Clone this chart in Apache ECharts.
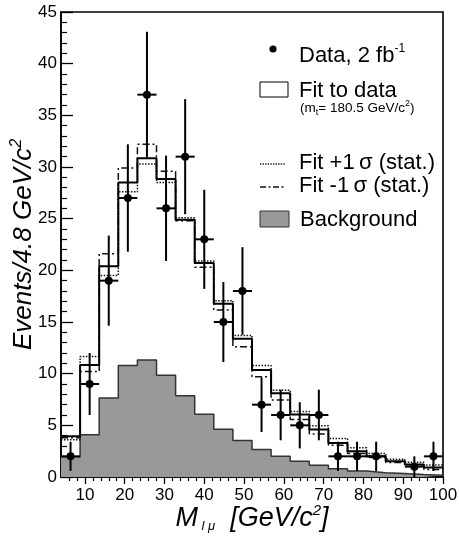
<!DOCTYPE html>
<html><head><meta charset="utf-8">
<script src="https://cdn.jsdelivr.net/npm/echarts@6/dist/echarts.min.js"></script>
<style>html,body{margin:0;padding:0;background:#fff}#c{width:459px;height:536px}</style>
</head><body><div id="c"></div>
<script>
// ---- data ----
const binEdges = [4, 8.8, 13.6, 18.4, 23.2, 28, 32.8, 37.6, 42.4, 47.2, 52, 56.8, 61.6, 66.4, 71.2, 76, 80.8, 85.6, 90.4, 95.2, 100];
const dataCounts = [2, 9, 19, 27, 37, 26, 31, 23, 15, 18, 7, 6, 5, 6, 2, 2, 2, null, 1, 2];
const fitNominal = [3.95, 10.85, 20.4, 28.5, 30.85, 28.85, 24.9, 20.7, 16.77, 13.37, 10.36, 8.1, 6.06, 4.6, 3.3, 2.5, 2.0, 1.52, 1.2, 0.91];
const fitPlus1Sigma = [3.6, 11.65, 19.5, 27.6, 30.3, 28.5, 25.1, 20.9, 17.06, 13.7, 10.8, 8.4, 6.35, 4.95, 3.73, 2.82, 2.27, 1.72, 1.43, 1.17];
const fitMinus1Sigma = [3.8, 10.2, 21.6, 29.9, 32.2, 29.6, 24.8, 20.3, 16.15, 12.6, 9.7, 7.45, 5.57, 4.15, 3.08, 2.27, 1.88, 1.4, 1.04, 0.72];
const background = [1.95, 4.08, 7.64, 10.8, 11.33, 9.84, 7.86, 6.07, 4.63, 3.53, 2.66, 2.0, 1.52, 1.14, 0.81, 0.58, 0.42, 0.33, 0.23, 0.16];
const xMajorTicks = [10, 20, 30, 40, 50, 60, 70, 80, 90, 100];
const xMinorTicks = [6, 8, 12, 14, 16, 18, 22, 24, 26, 28, 32, 34, 36, 38, 42, 44, 46, 48, 52, 54, 56, 58, 62, 64, 66, 68, 72, 74, 76, 78, 82, 84, 86, 88, 92, 94, 96, 98];
const yMinorTicks = [1, 2, 3, 4, 6, 7, 8, 9, 11, 12, 13, 14, 16, 17, 18, 19, 21, 22, 23, 24, 26, 27, 28, 29, 31, 32, 33, 34, 36, 37, 38, 39, 41, 42, 43, 44];
const xRange = [4, 100];
const yRange = [0, 45];
const yStep = 5;

const FONT = '"Liberation Sans", Arial, Helvetica, sans-serif';

function stepPoints(vals) {
  const pts = [];
  vals.forEach((v, i) => { pts.push([binEdges[i], v]); pts.push([binEdges[i + 1], v]); });
  return pts;
}
const pointData = [];
dataCounts.forEach((n, i) => {
  if (n == null) return;
  pointData.push([(binEdges[i] + binEdges[i + 1]) / 2, n, Math.sqrt(n), binEdges[i], binEdges[i + 1]]);
});

const chart = echarts.init(document.getElementById('c'), null, { renderer: 'canvas' });
const option = {
  animation: false,
  backgroundColor: '#fff',
  grid: { left: 61, right: 16, top: 12, bottom: 59, containLabel: false, outerBoundsMode: 'none',
          show: true, borderColor: '#000', borderWidth: 1.6, backgroundColor: 'transparent' },
  xAxis: [{
    type: 'value', min: xRange[0], max: xRange[1],
    axisLine: { show: true, lineStyle: { color: '#000', width: 1.6 } },
    axisTick: { show: true, inside: false, length: 7, lineStyle: { color: '#000', width: 1.3 }, customValues: xMajorTicks },
    axisLabel: { show: true, customValues: xMajorTicks, margin: 10, color: '#000', fontSize: 17, fontFamily: FONT },
    splitLine: { show: false },
    name: '{i|M}{sub| l μ}{i|  [GeV/c}{sup|2}{i|]}',
    nameLocation: 'middle', nameGap: 26, nameMoveOverlap: false,
    nameTextStyle: {
      rich: {
        i: { fontSize: 27, fontStyle: 'italic', fontFamily: FONT, color: '#000', lineHeight: 30 },
        sub: { fontSize: 13, fontStyle: 'italic', fontFamily: FONT, color: '#000', verticalAlign: 'bottom', lineHeight: 30, padding: [14, 0, 0, 0] },
        sup: { fontSize: 15, fontStyle: 'italic', fontFamily: FONT, color: '#000', verticalAlign: 'top', lineHeight: 30 }
      }
    }
  }, {
    type: 'value', min: xRange[0], max: xRange[1], position: 'bottom',
    axisLine: { show: false },
    axisTick: { show: true, inside: false, length: 4, lineStyle: { color: '#000', width: 1.2 }, customValues: xMinorTicks },
    axisLabel: { show: false }, splitLine: { show: false }
  }],
  yAxis: [{
    type: 'value', min: yRange[0], max: yRange[1], interval: yStep,
    axisLine: { show: true, lineStyle: { color: '#000', width: 1.6 } },
    axisTick: { show: true, inside: true, length: 12, lineStyle: { color: '#000', width: 1.3 } },
    axisLabel: { margin: 4, color: '#000', fontSize: 17, fontFamily: FONT },
    splitLine: { show: false },
    name: '{i|Events/4.8 GeV/c}{sup|2}',
    nameLocation: 'middle', nameRotate: 90, nameGap: 22, nameMoveOverlap: false,
    nameTextStyle: {
      rich: {
        i: { fontSize: 26, fontStyle: 'italic', fontFamily: FONT, color: '#000', lineHeight: 30 },
        sup: { fontSize: 16, fontStyle: 'italic', fontFamily: FONT, color: '#000', verticalAlign: 'top', lineHeight: 30 }
      }
    }
  }, {
    type: 'value', min: yRange[0], max: yRange[1], position: 'left',
    axisLine: { show: false },
    axisTick: { show: true, inside: true, length: 6, lineStyle: { color: '#000', width: 1.2 }, customValues: yMinorTicks },
    axisLabel: { show: false }, splitLine: { show: false }
  }],
  series: [
    {
      name: 'Background', type: 'line', data: stepPoints(background), symbol: 'none',
      lineStyle: { color: '#333', width: 1.5 },
      areaStyle: { color: '#999999', opacity: 1 }, z: 1
    },
    {
      name: 'Fit +1 sigma', type: 'line', data: stepPoints(fitPlus1Sigma), symbol: 'none',
      lineStyle: { color: '#111', width: 1.5, type: [1.5, 1.5] }, z: 2
    },
    {
      name: 'Fit -1 sigma', type: 'line', data: stepPoints(fitMinus1Sigma), symbol: 'none',
      lineStyle: { color: '#111', width: 1.5, type: [7, 3, 2, 3] }, z: 3
    },
    {
      name: 'Fit to data', type: 'line', data: stepPoints(fitNominal), symbol: 'none',
      lineStyle: { color: '#000', width: 2 }, z: 4
    },
    {
      name: 'Data', type: 'custom', data: pointData, encode: { x: 0, y: 1 }, z: 5,
      renderItem: function (params, api) {
        const x = api.value(0), y = api.value(1), e = api.value(2), lo = api.value(3), hi = api.value(4);
        const c = api.coord([x, y]);
        const top = api.coord([x, y + e]);
        const bot = api.coord([x, Math.max(y - e, 0)]);
        const l = api.coord([lo, y]);
        const r = api.coord([hi, y]);
        return {
          type: 'group', children: [
            { type: 'line', shape: { x1: c[0], y1: top[1], x2: c[0], y2: bot[1] }, style: { stroke: '#000', lineWidth: 2 } },
            { type: 'line', shape: { x1: l[0], y1: c[1], x2: r[0], y2: c[1] }, style: { stroke: '#000', lineWidth: 2 } },
            { type: 'circle', shape: { cx: c[0], cy: c[1], r: 4 }, style: { fill: '#000' } }
          ]
        };
      }
    }
  ],
  graphic: [
    { type: 'circle', shape: { cx: 273, cy: 49, r: 3.6 }, style: { fill: '#000' }, z: 10 },
    { type: 'text', x: 299, y: 56, z: 10, style: {
        text: '{a|Data, 2 fb}{s|-1}', textVerticalAlign: 'middle', textAlign: 'left',
        rich: { a: { fontSize: 22, fontFamily: FONT, fill: '#000', lineHeight: 26 }, s: { fontSize: 12, fontFamily: FONT, fill: '#000', verticalAlign: 'top', lineHeight: 26 } } } },
    { type: 'rect', shape: { x: 260, y: 82, width: 28, height: 15 }, style: { fill: '#fff', stroke: '#000', lineWidth: 1 }, z: 10 },
    { type: 'text', x: 299, y: 91, z: 10, style: {
        text: 'Fit to data', textVerticalAlign: 'middle', textAlign: 'left', fontSize: 22, fontFamily: FONT, fill: '#000' } },
    { type: 'text', x: 300, y: 108, z: 10, style: {
        text: '{a|(m}{b|t}{a|= 180.5 GeV/c}{c|2}{a|)}', textVerticalAlign: 'middle', textAlign: 'left',
        rich: { a: { fontSize: 13.5, fontFamily: FONT, fill: '#000', lineHeight: 18 },
                b: { fontSize: 9, fontFamily: FONT, fill: '#000', verticalAlign: 'bottom', lineHeight: 18, padding: [8, 0, 0, 0] },
                c: { fontSize: 9, fontFamily: FONT, fill: '#000', verticalAlign: 'top', lineHeight: 18 } } } },
    { type: 'line', shape: { x1: 260, y1: 164, x2: 286, y2: 164 }, style: { stroke: '#111', lineWidth: 1.3, lineDash: [1.3, 1.3] }, z: 10 },
    { type: 'text', x: 299, y: 163, z: 10, style: {
        text: 'Fit +1\u2009σ (stat.)', textVerticalAlign: 'middle', textAlign: 'left', fontSize: 22, fontFamily: FONT, fill: '#000' } },
    { type: 'line', shape: { x1: 260, y1: 187, x2: 286, y2: 187 }, style: { stroke: '#111', lineWidth: 1.5, lineDash: [6, 2.5, 2, 2.5] }, z: 10 },
    { type: 'text', x: 299, y: 186, z: 10, style: {
        text: 'Fit -1\u2009σ (stat.)', textVerticalAlign: 'middle', textAlign: 'left', fontSize: 22, fontFamily: FONT, fill: '#000' } },
    { type: 'rect', shape: { x: 260, y: 211, width: 29, height: 16 }, style: { fill: '#999999', stroke: '#333', lineWidth: 1 }, z: 10 },
    { type: 'text', x: 300, y: 220, z: 10, style: {
        text: 'Background', textVerticalAlign: 'middle', textAlign: 'left', fontSize: 22, fontFamily: FONT, fill: '#000' } }
  ]
};
chart.setOption(option);
</script>
</body></html>
